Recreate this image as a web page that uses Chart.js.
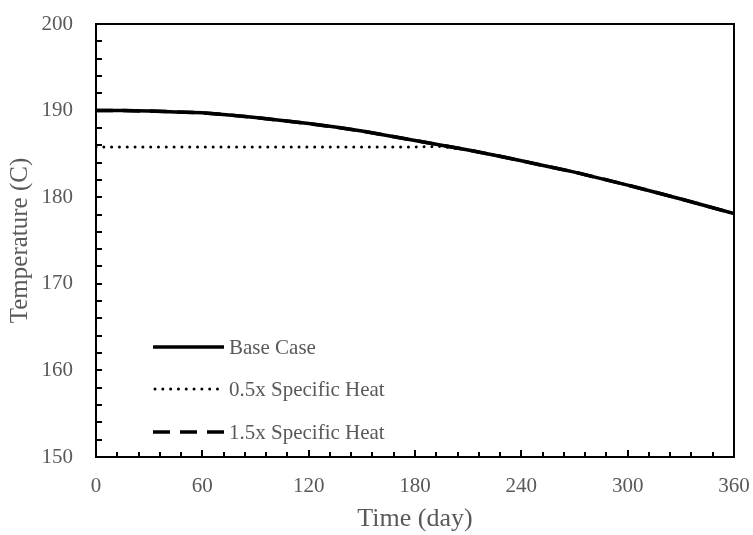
<!DOCTYPE html>
<html>
<head>
<meta charset="utf-8">
<script src="https://cdn.jsdelivr.net/npm/chart.js@4.4.1/dist/chart.umd.min.js"></script>
<style>
  html, body { margin: 0; padding: 0; background: #ffffff; }
  #wrap { width: 753px; height: 535px; position: relative; }
</style>
</head>
<body>
<div id="wrap"><canvas id="c" width="753" height="535"></canvas></div>
<script>
// ---- data ----
const days = [0, 15, 30, 45, 60, 75, 90, 105, 120, 135, 150, 165, 180, 195, 210, 225, 240, 255, 270, 285, 300, 315, 330, 345, 360];
const baseCase = [190.0, 190.0, 189.95, 189.85, 189.75, 189.5, 189.2, 188.85, 188.5, 188.1, 187.65, 187.1, 186.55, 186.0, 185.45, 184.85, 184.2, 183.55, 182.9, 182.15, 181.4, 180.6, 179.8, 178.95, 178.1];
const halfSpecificHeat = [185.8, 185.8, 185.8, 185.8, 185.8, 185.8, 185.8, 185.8, 185.8, 185.8, 185.8, 185.8, 185.8, 185.85, 185.45, 184.85, 184.2, 183.55, 182.9, 182.15, 181.4, 180.6, 179.8, 178.95, 178.1];
const oneHalfSpecificHeat = [190.0, 190.0, 189.95, 189.85, 189.75, 189.5, 189.2, 188.85, 188.5, 188.1, 187.65, 187.1, 186.55, 186.0, 185.45, 184.85, 184.2, 183.55, 182.9, 182.15, 181.4, 180.6, 179.8, 178.95, 178.1];
const seriesNames = ['Base Case', '0.5x Specific Heat', '1.5x Specific Heat'];
const xTicks = [0, 60, 120, 180, 240, 300, 360];
const yTicks = [150, 160, 170, 180, 190, 200];
const xTitle = 'Time (day)';
const yTitle = 'Temperature (C)';

const FONT = "'Liberation Serif', 'Times New Roman', serif";
const GREY = '#595959';

const toPts = arr => arr.map((v, i) => ({ x: days[i], y: v }));

const styles = [
  { borderWidth: 3.5, borderDash: [], borderCapStyle: 'butt' },
  { borderWidth: 3, borderDash: [0.01, 7.8], borderCapStyle: 'round' },
  { borderWidth: 3.5, borderDash: [17, 10], borderCapStyle: 'butt' }
];
const dataArrays = [baseCase, halfSpecificHeat, oneHalfSpecificHeat];

// frame, inward ticks and in-plot legend
const decor = {
  id: 'decor',
  afterDatasetsDraw(chart) {
    const { ctx, chartArea: a, scales } = chart;
    const xs = scales.x, ys = scales.y;
    ctx.save();
    ctx.strokeStyle = '#000';
    ctx.lineWidth = 2;
    ctx.lineCap = 'butt';
    // ticks
    ctx.beginPath();
    for (let v = ys.min; v <= ys.max + 1e-9; v += 2) {
      const py = Math.round(ys.getPixelForValue(v));
      ctx.moveTo(a.left, py); ctx.lineTo(a.left + 6, py);
    }
    for (let v = xs.min; v <= xs.max + 1e-9; v += 12) {
      const px = Math.round(xs.getPixelForValue(v));
      const len = (v % 60 === 0) ? 7 : 5;
      ctx.moveTo(px, a.bottom); ctx.lineTo(px, a.bottom - len);
    }
    ctx.stroke();
    // frame
    ctx.strokeRect(a.left, a.top, a.right - a.left, a.bottom - a.top);
    // legend
    const rowY = [347, 389, 432];
    chart.data.datasets.forEach((ds, i) => {
      ctx.save();
      ctx.strokeStyle = '#000';
      ctx.lineWidth = ds.borderWidth;
      ctx.lineCap = ds.borderCapStyle;
      ctx.setLineDash(ds.borderDash);
      ctx.beginPath();
      ctx.moveTo(i === 1 ? 155 : 153, rowY[i]);
      ctx.lineTo(i === 1 ? 219 : 224, rowY[i]);
      ctx.stroke();
      ctx.restore();
      ctx.fillStyle = GREY;
      ctx.font = "21px " + FONT;
      ctx.textBaseline = 'middle';
      ctx.textAlign = 'left';
      ctx.fillText(ds.label, 229, rowY[i] + 1);
    });
    ctx.restore();
  }
};

new Chart(document.getElementById('c'), {
  type: 'line',
  data: {
    datasets: dataArrays.map((arr, i) => ({
      label: seriesNames[i],
      data: toPts(arr),
      borderColor: '#000',
      backgroundColor: '#000',
      pointRadius: 0,
      tension: 0,
      fill: false,
      ...styles[i]
    }))
  },
  options: {
    responsive: false,
    animation: false,
    devicePixelRatio: 1,
    layout: { padding: { left: 0, right: 19, top: 24, bottom: 0 } },
    plugins: { legend: { display: false }, tooltip: { enabled: false } },
    scales: {
      x: {
        type: 'linear', min: 0, max: 360,
        afterBuildTicks: s => { s.ticks = xTicks.map(v => ({ value: v })); },
        afterFit: s => { s.height = 78; s.paddingLeft = 0; s.paddingRight = 0; },
        grid: { display: false, drawTicks: false },
        border: { display: false },
        ticks: { color: GREY, font: { family: FONT, size: 21 }, padding: 17, maxRotation: 0 },
        title: { display: true, text: xTitle, color: GREY, font: { family: FONT, size: 26 }, padding: { top: 0, bottom: 0 } }
      },
      y: {
        type: 'linear', min: 150, max: 200,
        afterBuildTicks: s => { s.ticks = yTicks.map(v => ({ value: v })); },
        afterFit: s => { s.width = 96; s.paddingTop = 0; s.paddingBottom = 0; },
        grid: { display: false, drawTicks: false },
        border: { display: false },
        ticks: { color: GREY, font: { family: FONT, size: 21 }, padding: 23 },
        title: { display: true, text: yTitle, color: GREY, font: { family: FONT, size: 25 }, padding: { top: 5, bottom: 0 } }
      }
    }
  },
  plugins: [decor]
});
</script>
</body>
</html>
